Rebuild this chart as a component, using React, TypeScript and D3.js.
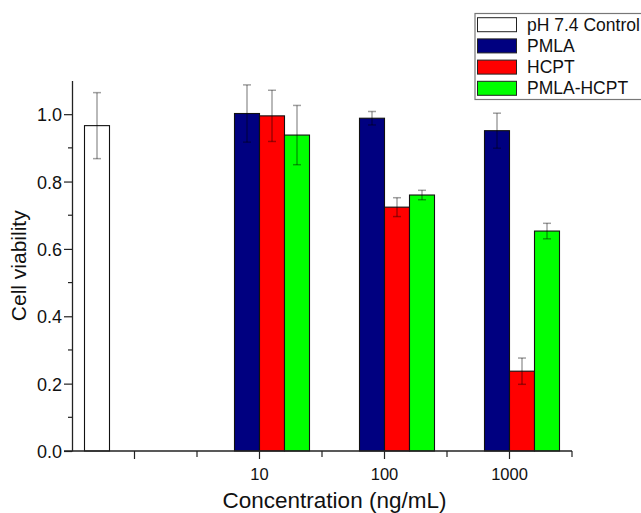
import React, { useEffect, useRef } from 'react';
import * as d3 from 'd3';

const categories = ['', '10', '100', '1000'];
const seriesNames = ['pH 7.4 Control', 'PMLA', 'HCPT', 'PMLA-HCPT'];
const seriesColors = ['#ffffff', '#000080', '#ff0000', '#00ff00'];

// one value per category, null where the bar is missing
const controlValues = [0.966, null, null, null];
const controlErrors = [0.098, null, null, null];
const pmlaValues = [null, 1.002, 0.988, 0.951];
const pmlaErrors = [null, 0.085, 0.02, 0.052];
const hcptValues = [null, 0.995, 0.724, 0.237];
const hcptErrors = [null, 0.076, 0.028, 0.039];
const pmlaHcptValues = [null, 0.938, 0.76, 0.653];
const pmlaHcptErrors = [null, 0.088, 0.014, 0.023];

const yTicks = [0, 0.2, 0.4, 0.6, 0.8, 1.0];
const yMinorTicks = [0.1, 0.3, 0.5, 0.7, 0.9];

const FONT = 'Arial, "Liberation Sans", sans-serif';

const App = () => {
  const ref = useRef<SVGSVGElement>(null);

  useEffect(() => {
    const svg = d3.select(ref.current);
    svg.selectAll('*').remove();

    const width = 641;
    const height = 513;
    const left = 72;
    const right = 572;
    const top = 80.5;
    const bottom = 451;

    const values = [controlValues, pmlaValues, hcptValues, pmlaHcptValues];
    const errors = [controlErrors, pmlaErrors, hcptErrors, pmlaHcptErrors];

    const rows: { cat: string; s: number; v: number; e: number }[] = [];
    categories.forEach((c, ci) => {
      seriesNames.forEach((_, si) => {
        const v = values[si][ci];
        if (v !== null) rows.push({ cat: c + '#' + ci, s: si, v, e: errors[si][ci] as number });
      });
    });

    const catKeys = categories.map((c, i) => c + '#' + i);
    const x0 = d3.scaleBand<string>().domain(catKeys).range([left, right]).padding(0);
    const x1 = d3
      .scaleBand<number>()
      .domain(seriesNames.map((_, i) => i))
      .range([0, x0.bandwidth()])
      .paddingInner(0)
      .paddingOuter(0.5);
    const y = d3.scaleLinear().domain([0, 1.1]).range([bottom, top]);

    svg.append('rect').attr('width', width).attr('height', height).attr('fill', '#fff');

    // bars
    svg
      .append('g')
      .selectAll('rect')
      .data(rows)
      .enter()
      .append('rect')
      .attr('x', d => (x0(d.cat) as number) + (x1(d.s) as number))
      .attr('y', d => y(d.v))
      .attr('width', x1.bandwidth())
      .attr('height', d => bottom - y(d.v))
      .attr('fill', d => seriesColors[d.s])
      .attr('stroke', '#111')
      .attr('stroke-width', 1.1);

    // error bars
    const eg = svg
      .append('g')
      .attr('stroke', '#000')
      .attr('stroke-opacity', 0.37)
      .attr('stroke-width', 1.5);
    rows.forEach(d => {
      const cx = (x0(d.cat) as number) + (x1(d.s) as number) + x1.bandwidth() / 2;
      const y1 = y(d.v + d.e);
      const y2 = y(d.v - d.e);
      eg.append('line').attr('x1', cx).attr('x2', cx).attr('y1', y1).attr('y2', y2);
      eg.append('line').attr('x1', cx - 4).attr('x2', cx + 4).attr('y1', y1).attr('y2', y1);
      eg.append('line').attr('x1', cx - 4).attr('x2', cx + 4).attr('y1', y2).attr('y2', y2);
    });

    // y axis
    const ya = svg.append('g').attr('transform', `translate(${left},0)`);
    ya.call(
      d3
        .axisLeft(y)
        .tickValues(yTicks)
        .tickSize(8)
        .tickSizeOuter(0)
        .tickFormat(d3.format('.1f'))
    );
    ya.selectAll('.minor')
      .data(yMinorTicks)
      .enter()
      .append('line')
      .attr('class', 'minor')
      .attr('x1', -4)
      .attr('x2', 0)
      .attr('y1', d => y(d))
      .attr('y2', d => y(d))
      .attr('stroke', '#222')
      .attr('stroke-width', 1.2);
    ya.select('.domain').attr('stroke', '#222').attr('stroke-width', 1.3);
    ya.selectAll('.tick line').attr('stroke', '#222').attr('stroke-width', 1.2);
    ya.selectAll('.tick text')
      .attr('x', -10)
      .attr('dy', '0.36em')
      .style('font-family', FONT)
      .style('font-size', '18px')
      .attr('fill', '#111');

    // x axis
    const xa = svg.append('g').attr('transform', `translate(0,${bottom})`);
    xa.call(
      d3
        .axisBottom(x0)
        .tickSize(8)
        .tickSizeOuter(0)
        .tickFormat(d => (d as string).split('#')[0])
    );
    xa.select('.domain').remove();
    xa.append('line')
      .attr('x1', left - 8)
      .attr('x2', right)
      .attr('stroke', '#222')
      .attr('stroke-width', 1.3);
    const edges = catKeys.map(k => x0(k) as number).concat([right]);
    xa.selectAll('.edge')
      .data(edges.slice(1))
      .enter()
      .append('line')
      .attr('class', 'edge')
      .attr('x1', d => d)
      .attr('x2', d => d)
      .attr('y1', 0)
      .attr('y2', 6)
      .attr('stroke', '#222')
      .attr('stroke-width', 1.2);
    xa.selectAll('.tick line').attr('stroke', '#222').attr('stroke-width', 1.2);
    xa.selectAll('.tick text')
      .attr('y', 17)
      .attr('dy', '0.71em')
      .style('font-family', FONT)
      .style('font-size', '16.5px')
      .attr('fill', '#111');

    // axis titles
    svg
      .append('text')
      .attr('x', 334.5)
      .attr('y', 508)
      .attr('text-anchor', 'middle')
      .style('font-family', FONT)
      .style('font-size', '22.5px')
      .attr('fill', '#111')
      .text('Concentration (ng/mL)');

    svg
      .append('text')
      .attr('transform', `translate(26,${(top + bottom) / 2}) rotate(-90)`)
      .attr('text-anchor', 'middle')
      .style('font-family', FONT)
      .style('font-size', '21px')
      .attr('fill', '#111')
      .text('Cell viability');

    // legend
    const lg = svg.append('g');
    lg.append('rect')
      .attr('x', 475)
      .attr('y', 13.5)
      .attr('width', 180)
      .attr('height', 86)
      .attr('fill', '#fff')
      .attr('stroke', '#777')
      .attr('stroke-width', 1.2);
    seriesNames.forEach((name, i) => {
      const ry = 17.7 + i * 21.2;
      lg.append('rect')
        .attr('x', 477.5)
        .attr('y', ry)
        .attr('width', 39)
        .attr('height', 14)
        .attr('fill', seriesColors[i])
        .attr('stroke', '#222')
        .attr('stroke-width', 1);
      lg.append('text')
        .attr('x', 527)
        .attr('y', ry + 13)
        .style('font-family', FONT)
        .style('font-size', '17.5px')
        .attr('fill', '#111')
        .text(name);
    });
  }, []);

  return (
    <svg
      ref={ref}
      width={641}
      height={513}
      style={{ position: 'absolute', left: 0, top: 0, display: 'block' }}
    ></svg>
  );
};

export default App;
